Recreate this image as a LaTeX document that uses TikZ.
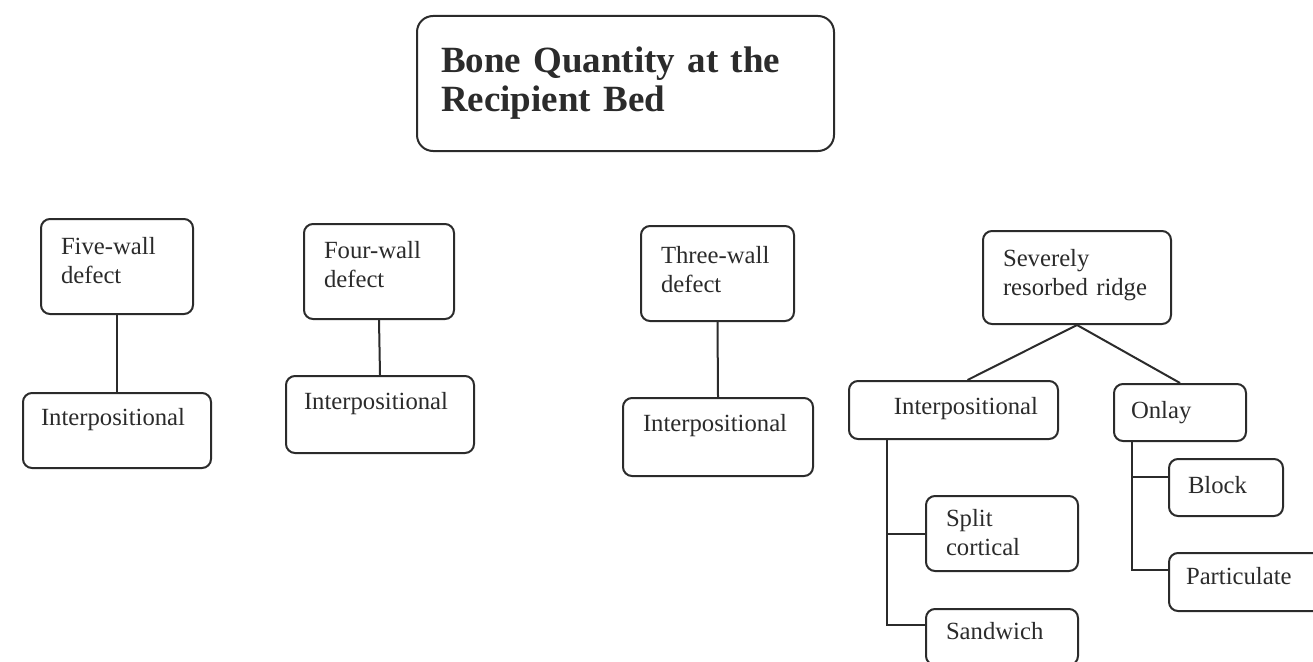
\documentclass[tikz,border=0pt]{standalone}
\usepackage{fontspec}
\setmainfont{Liberation Serif}
\usetikzlibrary{calc}
\definecolor{inkgrey}{HTML}{2B2B2B}
\tikzset{
  box/.style      = {draw=inkgrey, line width=2pt, rounded corners=9pt,
                     anchor=north west, inner ysep=0pt, align=left, text=inkgrey,
                     font=\fontsize{24.7}{29}\selectfont},
  titlebox/.style = {box, rounded corners=16pt,
                     font=\bfseries\fontsize{37}{38}\selectfont},
  wire/.style     = {draw=inkgrey, line width=2pt},
}
\begin{document}
\begin{tikzpicture}[x=1pt, y=1pt]
  \useasboundingbox (0,0) rectangle (1313,-661);
  \node[titlebox, inner xsep=24pt, text width=369pt, text height=57pt, text depth=78pt]
    (bqty) at (416,-15) {Bone Quantity at the\\Recipient Bed};
  % defect boxes, each with one child
  \node[box, inner xsep=20pt, text width=112pt, text height=35pt, text depth=60pt]
    (five) at (40,-218) {Five-wall\\defect};
  \node[box, inner xsep=18pt, text width=152pt, text height=32pt, text depth=43pt]
    (ip1) at (22,-392) {Interpositional};
  \node[box, inner xsep=20pt, text width=110pt, text height=34pt, text depth=61pt]
    (four) at (303,-223) {Four-wall\\defect};
  \node[box, inner xsep=18pt, text width=152pt, text height=33pt, text depth=44pt]
    (ip2) at (285,-375) {Interpositional};
  \node[box, inner xsep=20pt, text width=113pt, text height=37pt, text depth=58pt]
    (three) at (640,-225) {Three-wall\\defect};
  \node[box, inner xsep=20pt, text width=150pt, text height=33pt, text depth=45pt]
    (ip3) at (622,-397) {Interpositional};
  \draw[wire] (five) -- (ip1);
  \draw[wire] (four.south) -- (ip2.north);
  \draw[wire] (three.south) -- (ip3.north);
  % resorbed ridge subtree
  \node[box, inner xsep=20pt, text width=148pt, text height=35pt, text depth=58pt]
    (sev) at (982,-230) {Severely\\resorbed ridge};
  \node[box, inner xsep=20pt, text width=169pt, text height=33pt, text depth=25pt, align=right]
    (ip4) at (848,-380) {Interpositional};
  \node[box, inner xsep=17pt, text width=98pt, text height=34pt, text depth=23pt]
    (onlay) at (1113,-383) {Onlay};
  \node[box, inner xsep=20pt, text width=112pt, text height=30pt, text depth=45pt]
    (split) at (925,-495) {Split\\cortical};
  \node[box, inner xsep=20pt, text width=112pt, text height=30pt, text depth=26pt]
    (sand) at (925,-608) {Sandwich};
  \node[box, inner xsep=19pt, text width=76pt, text height=34pt, text depth=23pt]
    (block) at (1168,-458) {Block};
  \node[box, inner xsep=17pt, text width=123pt, text height=31pt, text depth=27pt]
    (part) at (1168,-552) {Particulate};
  \draw[wire] (sev.south) -- ($(ip4.north)+(14,0)$);
  \draw[wire] (sev.south) -- (onlay.north);
  \coordinate (ipspine) at ($(ip4.south west)+(39,0)$);
  \draw[wire] (ipspine) |- (split.west);
  \draw[wire] (ipspine) |- ($(sand.north west)+(0,-17)$);
  \coordinate (onspine) at ($(onlay.south west)+(19,0)$);
  \draw[wire] (onspine) |- ($(block.north west)+(0,-19)$);
  \draw[wire] (onspine) |- ($(part.north west)+(0,-18)$);
\end{tikzpicture}
\end{document}
